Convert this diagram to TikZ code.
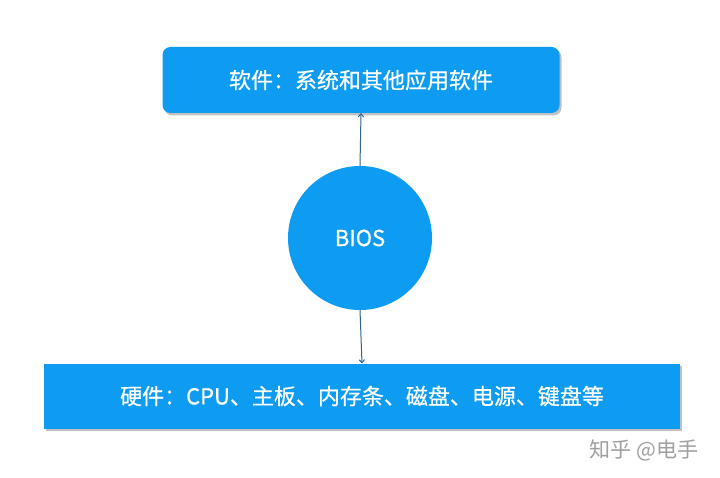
\documentclass[tikz,border=0pt]{standalone}
\usepackage{fontspec}
\setmainfont{Noto Sans CJK SC}
\newfontfamily\medfont{Noto Sans CJK SC}[FakeBold=0.6]
\usetikzlibrary{shadows,arrows.meta}
\definecolor{boxblue}{HTML}{0E9CF2}
\definecolor{linecol}{HTML}{2E6590}
\definecolor{wmgray}{HTML}{A0A0A0}
\begin{document}
\begin{tikzpicture}[x=1pt,y=-1pt,
  bluebox/.style={fill=boxblue,draw=none,text=white,font=\medfont\fontsize{22}{26}\selectfont,
    drop shadow={shadow xshift=2pt,shadow yshift=-2.5pt,opacity=0.35,fill=black!70}},
  connector/.style={draw=linecol,line width=1pt,-{To[length=4pt,width=6pt]}}]
\useasboundingbox (0,0) rectangle (720,478);
\fill[white] (0,0) rectangle (720,478);
\node[bluebox,rounded corners=8pt,minimum width=397pt,minimum height=66pt] (sw) at (361,80) {软件：系统和其他应用软件};
\node[circle,fill=boxblue,text=white,minimum size=144pt,inner sep=0pt,font=\medfont\fontsize{22}{26}\selectfont] (bios) at (360,238) {BIOS};
\node[bluebox,minimum width=636pt,minimum height=65pt] (hw) at (362,396) {硬件：CPU、主板、内存条、磁盘、电源、键盘等};
\draw[connector] (bios.north) -- (sw.south);
\draw[connector] (bios.south) -- (hw.north);
\node[text=wmgray,font=\fontsize{21}{24}\selectfont,anchor=east] (wm) at (702,450) {知乎 @电手};
\end{tikzpicture}
\end{document}
